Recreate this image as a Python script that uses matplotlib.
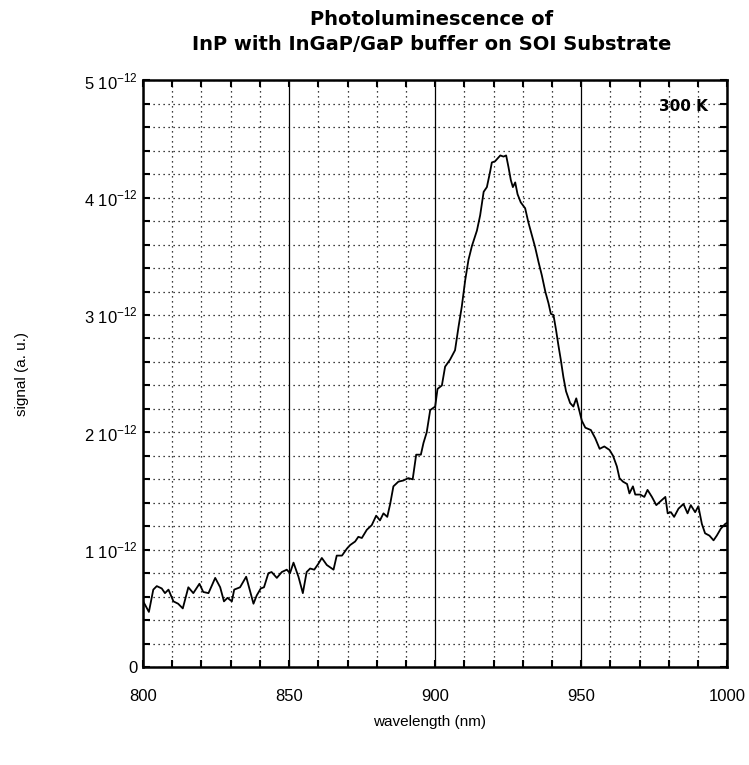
import numpy as np
import matplotlib
matplotlib.use('Agg')
import matplotlib.pyplot as plt
from matplotlib.ticker import MultipleLocator, FixedLocator, FixedFormatter

plt.rcParams['font.family'] = ['Liberation Sans', 'DejaVu Sans']

# PL spectrum: wavelength (nm), signal (units of 1e-12)
wavelength = [800.0, 800.7, 802.0, 803.5, 804.7, 806.4, 807.5, 808.7, 810.4, 812.0,
              813.6, 815.5, 817.2, 819.3, 820.6, 822.4, 824.7, 826.4, 827.7, 828.9,
              830.4, 831.2, 833.2, 835.3, 836.4, 837.8, 838.9, 840.3, 841.4, 842.9,
              844.0, 845.8, 847.5, 849.2, 850.3, 851.5, 853.2, 854.7, 856.0, 857.2,
              858.6, 860.0, 861.2, 862.9, 865.2, 866.3, 868.1, 869.8, 870.9, 872.6,
              873.7, 874.9, 876.6, 878.3, 879.8, 881.1, 882.3, 883.6, 884.6, 885.7,
              887.4, 889.1, 890.8, 892.3, 893.5, 895.1, 896.0, 897.1, 898.3, 900.0,
              900.8, 902.3, 903.4, 905.1, 906.8, 908.0, 909.1, 910.3, 911.4, 912.6,
              914.3, 915.4, 916.6, 917.7, 918.8, 919.4, 920.5, 922.3, 923.4, 924.3,
              925.1, 925.9, 926.6, 927.4, 928.2, 929.3, 930.8, 931.9, 933.1, 934.2,
              935.4, 936.5, 937.7, 938.8, 939.6, 940.5, 941.4, 942.2, 943.0, 943.9,
              944.8, 946.2, 947.3, 948.3, 949.0, 950.2, 951.4, 953.3, 954.8, 956.3,
              957.9, 959.7, 960.9, 962.2, 963.1, 964.3, 965.7, 966.5, 967.7, 968.5,
              970.2, 971.6, 972.7, 974.2, 975.7, 977.0, 978.8, 979.6, 980.7, 981.8,
              983.3, 985.0, 986.4, 987.5, 989.0, 990.1, 991.3, 992.4, 993.9, 995.3,
              996.4, 997.8, 999.3, 1000.0]
signal = [0.56, 0.53, 0.47, 0.66, 0.69, 0.67, 0.63, 0.66, 0.56, 0.54,
          0.50, 0.68, 0.63, 0.71, 0.64, 0.63, 0.76, 0.68, 0.56, 0.59,
          0.56, 0.66, 0.68, 0.77, 0.67, 0.54, 0.61, 0.67, 0.68, 0.80,
          0.81, 0.76, 0.81, 0.83, 0.80, 0.89, 0.77, 0.63, 0.81, 0.84,
          0.83, 0.88, 0.93, 0.87, 0.83, 0.95, 0.95, 1.01, 1.04, 1.07,
          1.11, 1.10, 1.17, 1.21, 1.29, 1.25, 1.31, 1.28, 1.39, 1.54,
          1.58, 1.59, 1.61, 1.60, 1.81, 1.81, 1.91, 2.00, 2.19, 2.22,
          2.37, 2.40, 2.56, 2.62, 2.70, 2.90, 3.07, 3.30, 3.47, 3.59,
          3.72, 3.85, 4.05, 4.09, 4.22, 4.30, 4.31, 4.36, 4.35, 4.36,
          4.26, 4.15, 4.09, 4.13, 4.03, 3.96, 3.91, 3.79, 3.68, 3.58,
          3.45, 3.34, 3.20, 3.10, 3.01, 3.00, 2.87, 2.74, 2.62, 2.47,
          2.35, 2.25, 2.22, 2.29, 2.22, 2.10, 2.04, 2.02, 1.95, 1.86,
          1.88, 1.85, 1.80, 1.71, 1.61, 1.58, 1.56, 1.48, 1.54, 1.47,
          1.47, 1.45, 1.51, 1.45, 1.38, 1.41, 1.45, 1.31, 1.32, 1.28,
          1.35, 1.39, 1.31, 1.38, 1.32, 1.37, 1.22, 1.14, 1.12, 1.08,
          1.12, 1.18, 1.22, 1.23]

x_ticks = [800, 850, 900, 950, 1000]
y_ticks = [0, 1, 2, 3, 4, 5]
y_labels = ['0'] + [r'%d 10$^{\mathregular{-12}}$' % v for v in y_ticks[1:]]

fig = plt.figure(figsize=(7.49, 7.65), dpi=100)
ax = fig.add_axes([0.191, 0.128, 0.780, 0.767])

sig = np.array(signal) * 1e-12
ax.plot(wavelength, sig, color='black', lw=1.3, zorder=3)

ax.set_xlim(800, 1000)
ax.set_ylim(0, 5e-12)

ax.xaxis.set_major_locator(FixedLocator(x_ticks))
ax.xaxis.set_minor_locator(MultipleLocator(10))
ax.yaxis.set_major_locator(FixedLocator([v * 1e-12 for v in y_ticks]))
ax.yaxis.set_major_formatter(FixedFormatter(y_labels))
ax.yaxis.set_minor_locator(MultipleLocator(0.2e-12))

# grid: dotted everywhere, solid at the inner 50 nm lines
ax.grid(which='both', axis='y', color='black', ls=(0, (1, 3)), lw=0.9)
ax.grid(which='minor', axis='x', color='black', ls=(0, (1, 3)), lw=0.9)
ax.grid(which='major', axis='x', color='black', ls='-', lw=0.9)

ax.tick_params(which='both', direction='in', top=True, right=True,
               length=5, width=1.5, color='black')
ax.tick_params(axis='x', which='major', pad=16, labelsize=12)
ax.tick_params(axis='y', which='major', pad=4, labelsize=12)

for s in ax.spines.values():
    s.set_linewidth(1.8)

ax.set_xlabel('wavelength (nm)', fontsize=11)
ax.set_ylabel('signal (a. u.)', fontsize=11)
ax.xaxis.set_label_coords(0.49, -0.082)
ax.yaxis.set_label_coords(-0.195, 0.5)

ax.text(0.967, 0.955, '300 K', transform=ax.transAxes, ha='right', va='center',
        fontsize=11, fontweight='bold', family=['DejaVu Sans'])

fig.text(0.576, 0.975, 'Photoluminescence of', ha='center', va='center',
         fontsize=14, fontweight='bold', family=['DejaVu Sans'])
fig.text(0.576, 0.942, 'InP with InGaP/GaP buffer on SOI Substrate', ha='center',
         va='center', fontsize=14, fontweight='bold', family=['DejaVu Sans'])

fig.savefig('out.png', dpi=100)
